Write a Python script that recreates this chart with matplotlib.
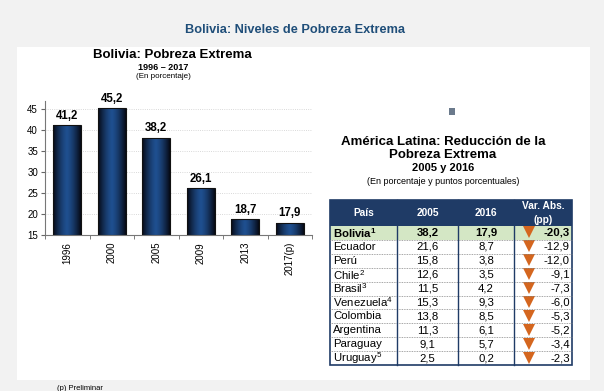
import numpy as np
import matplotlib
matplotlib.use("Agg")
import matplotlib.pyplot as plt
from matplotlib.patches import Rectangle

plt.rcParams['font.family'] = ['Liberation Sans', 'DejaVu Sans']
plt.rcParams['mathtext.default'] = 'regular'

# === Data: Bolivia extreme poverty ===
years = ['1996', '2000', '2005', '2009', '2013', '2017(p)']
pobreza = [41.2, 45.2, 38.2, 26.1, 18.7, 17.9]

# === Data: Latin America table ===
paises = ['Bolivia', 'Ecuador', 'Perú', 'Chile', 'Brasil', 'Venezuela',
          'Colombia', 'Argentina', 'Paraguay', 'Uruguay']
notas = ['1', '', '', '2', '3', '4', '', '', '', '5']
v2005 = [38.2, 21.6, 15.8, 12.6, 11.5, 15.3, 13.8, 11.3, 9.1, 2.5]
v2016 = [17.9, 8.7, 3.8, 3.5, 4.2, 9.3, 8.5, 6.1, 5.7, 0.2]
var_abs = [-20.3, -12.9, -12.0, -9.1, -7.3, -6.0, -5.3, -5.2, -3.4, -2.3]
headers = ['País', '2005', '2016', 'Var. Abs.\n(pp)']

W, H = 604, 391
NAVY = '#1f3b66'


def coma(v):
    return f"{v:.1f}".replace('.', ',')


fig = plt.figure(figsize=(W / 100, H / 100), dpi=100)
fig.patch.set_facecolor('#f2f2f2')

# overlay axes in pixel coords
ov = fig.add_axes([0, 0, 1, 1], zorder=0)
ov.set_xlim(0, W)
ov.set_ylim(H, 0)
ov.axis('off')
ov.add_patch(Rectangle((17, 47), 573, 333, facecolor='white', edgecolor='none'))

ov.text(295, 30, 'Bolivia: Niveles de Pobreza Extrema', ha='center', va='center',
        fontsize=9.2, fontweight='bold', color='#1f4e79')

# bar chart titles
ov.text(172, 55, 'Bolivia: Pobreza Extrema', ha='center', va='center',
        fontsize=9.5, fontweight='bold')
ov.text(163, 67, '1996 – 2017', ha='center', va='center', fontsize=6.5, fontweight='bold')
ov.text(163, 77, '(En porcentaje)', ha='center', va='center', fontsize=5.8)
ov.text(57, 388, '(p) Preliminar', ha='left', va='center', fontsize=5.5)

# === Bar chart ===
ax = fig.add_axes([45 / W, 1 - 235 / H, 267 / W, 134 / H], zorder=1)
ax.patch.set_alpha(0)
x = np.arange(len(years))
base = 15
bars = ax.bar(x, [v - base for v in pobreza], width=0.62, bottom=base, color='none',
              edgecolor='#111111', linewidth=0.8, zorder=3)
grad = np.abs(np.linspace(-1, 1, 64)) ** 1.4
cmap = matplotlib.colors.LinearSegmentedColormap.from_list('b', ['#1f4f8f', '#060a16'])
for b in bars:
    im = ax.imshow(grad[None, :], cmap=cmap, aspect='auto', zorder=2,
                   extent=[b.get_x(), b.get_x() + b.get_width(), b.get_y(),
                           b.get_y() + b.get_height()])
    im.set_clip_path(b)
for xi, v in zip(x, pobreza):
    ax.text(xi, v + 0.8, coma(v), ha='center', va='bottom', fontsize=8.3, fontweight='bold')

ax.set_xlim(-0.5, 5.5)
ax.set_ylim(15, 46.9)
ax.set_yticks(range(15, 46, 5))
ax.set_xticks(x)
ax.set_xticklabels(years, rotation=90, fontsize=7)
ax.set_xticks(np.arange(-0.5, 5.6, 1), minor=True)
ax.tick_params(axis='x', which='major', length=0, pad=5)
ax.tick_params(axis='x', which='minor', length=3, color='#666666')
ax.tick_params(axis='y', length=3, labelsize=7, color='#666666', pad=2)
ax.yaxis.grid(True, linestyle=':', color='#cccccc', linewidth=0.6)
ax.set_axisbelow(True)
for s in ['top', 'right']:
    ax.spines[s].set_visible(False)
for s in ['left', 'bottom']:
    ax.spines[s].set_color('#777777')
    ax.spines[s].set_linewidth(0.8)

# === Table ===
ov.add_patch(Rectangle((449, 108), 6, 7, facecolor='#6b7a8c', edgecolor='none'))
ov.text(443, 142, 'América Latina: Reducción de la', ha='center', va='center',
        fontsize=9.5, fontweight='bold')
ov.text(443, 155, 'Pobreza Extrema', ha='center', va='center', fontsize=9.5, fontweight='bold')
ov.text(443, 168, '2005 y 2016', ha='center', va='center', fontsize=8, fontweight='bold')
ov.text(443, 182, '(En porcentaje y puntos porcentuales)', ha='center', va='center', fontsize=6.5)

cols = [330, 397, 458, 514, 572]
top, hh, rh = 200, 26, 13.9
bottom = top + hh + rh * len(paises)
ov.add_patch(Rectangle((cols[0], top), cols[-1] - cols[0], hh, facecolor=NAVY,
                       edgecolor='none'))
ov.add_patch(Rectangle((cols[0], top + hh), cols[-1] - cols[0], rh, facecolor='#d4e7c5',
                       edgecolor='none'))
for j, h in enumerate(headers):
    ov.text((cols[j] + cols[j + 1]) / 2, top + hh / 2, h, ha='center', va='center',
            fontsize=7.3, fontweight='bold', color='white', linespacing=1.4)
for i, p in enumerate(paises):
    yc = top + hh + rh * (i + 0.5)
    fw = 'bold' if i == 0 else 'normal'
    label = p + (f'$^{{{notas[i]}}}$' if notas[i] else '')
    ov.text(cols[0] + 3, yc, label, ha='left', va='center', fontsize=8.2, fontweight=fw)
    ov.text((cols[1] + cols[2]) / 2, yc, coma(v2005[i]), ha='center', va='center',
            fontsize=8.2, fontweight=fw)
    ov.text((cols[2] + cols[3]) / 2, yc, coma(v2016[i]), ha='center', va='center',
            fontsize=8.2, fontweight=fw)
    ov.plot(529, yc - 0.5, marker='v', markersize=9, color='#d4661f', markeredgewidth=0)
    ov.text(cols[4] - 2, yc, coma(var_abs[i]), ha='right', va='center', fontsize=8.2,
            fontweight=fw)
    if i > 0:
        ov.plot([cols[0], cols[-1]], [top + hh + rh * i] * 2, color='#888888',
                linestyle=(0, (1, 1)), linewidth=0.6)
for c in cols[1:-1]:
    ov.plot([c, c], [top, bottom], color=NAVY, linewidth=1.0)
ov.add_patch(Rectangle((cols[0], top), cols[-1] - cols[0], bottom - top, facecolor='none',
                       edgecolor=NAVY, linewidth=1.2))

fig.savefig('out.png', dpi=100, facecolor=fig.get_facecolor())
